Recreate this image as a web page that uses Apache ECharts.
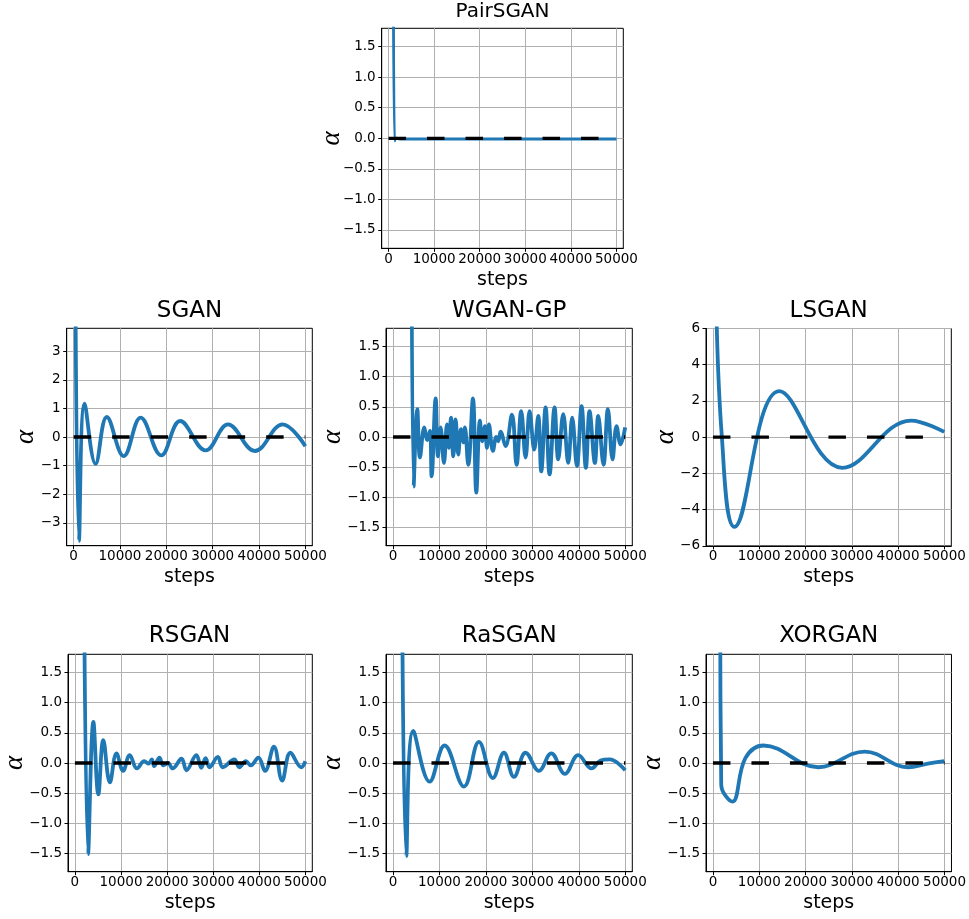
<!DOCTYPE html>
<html>
<head>
<meta charset="utf-8">
<script src="https://cdn.jsdelivr.net/npm/echarts@6/dist/echarts.min.js"></script>
<style>
  html, body { margin: 0; padding: 0; background: #ffffff; }
  #chart { width: 969px; height: 919px; }
</style>
</head>
<body>
<div id="chart"></div>
<script>
// ---- alpha over training steps, one pair of arrays per model ----
const pairSteps = [1000, 1300, 1700, 2500, 50000];
const pairAlpha = [5, -0.04, 0.0, -0.01, -0.01];

const sganSteps = [300, 1150, 2360, 4730, 7160, 10810, 14460, 18900, 22980, 28500, 33300, 39100, 45100, 50000];
const sganAlpha = [8, -3.63, 1.17, -0.94, 0.70, -0.67, 0.68, -0.64, 0.56, -0.47, 0.44, -0.49, 0.44, -0.32];

const wganSteps = [3950, 4450, 5230, 5810, 6740, 7390, 7960, 8320, 9180, 9680, 10250, 10970, 11620, 12050,
  12480, 12980, 13480, 14050, 14630, 15200, 15490, 16200, 17210, 17930, 18710, 19220, 19790, 20220, 20650,
  21510, 22230, 22660, 23160, 24230, 25600, 26600, 27600, 28540, 29400, 30400, 31260, 31910, 32840, 33700,
  34770, 35560, 36640, 37710, 38570, 39580, 40580, 41510, 42300, 43450, 44170, 45310, 46250, 47250, 48110,
  48970, 49970];
const wganAlpha = [5, -0.82, 0.46, -0.34, 0.16, -0.05, 0.10, -0.65, 0.64, -0.32, 0.16, -0.43, 0.21, -0.18,
  0.32, -0.32, 0.29, -0.29, 0.13, -0.09, 0.16, -0.46, 0.64, -0.92, 0.27, -0.07, 0.18, -0.18, 0.21,
  -0.23, 0.0, -0.07, 0.09, -0.15, 0.37, -0.46, 0.43, -0.34, 0.43, -0.21, 0.35, -0.57, 0.49, -0.62,
  0.49, -0.37, 0.38, -0.43, 0.32, -0.48, 0.51, -0.51, 0.43, -0.43, 0.35, -0.46, 0.46, -0.37, 0.18,
  -0.12, 0.16];

const lsganSteps = [600, 1930, 4660, 14340, 27960, 42800, 49980];
const lsganAlpha = [9, 0, -4.95, 2.54, -1.69, 0.92, 0.29];

const rsganSteps = [1900, 2860, 4010, 5080, 6160, 7590, 9020, 10450, 11890, 13460, 15040, 16000, 16680, 17180,
  18330, 19190, 20200, 21190, 23130, 24200, 26350, 27420, 28350, 29210, 31000, 32080, 34580, 35660, 37090,
  38160, 39810, 41240, 43170, 44960, 46750, 49120, 50000];
const rsganAlpha = [4, -1.51, 0.68, -0.52, 0.38, -0.32, 0.16, -0.13, 0.13, -0.09, 0.03, -0.01, 0.06, -0.05,
  0.09, -0.04, 0.0, -0.09, 0.07, -0.12, 0.13, -0.08, 0.08, -0.07, 0.10, -0.07, 0.06, -0.07, 0.03,
  -0.04, 0.09, -0.13, 0.27, -0.29, 0.17, -0.07, 0.03];

const rasganSteps = [1900, 2870, 4370, 7890, 11110, 15270, 18500, 21510, 23880, 26030, 28540, 31400, 34060, 37000, 39860, 42730, 44670, 46600, 49970];
const rasganAlpha = [4, -1.54, 0.53, -0.31, 0.29, -0.39, 0.35, -0.25, 0.17, -0.23, 0.17, -0.13, 0.16, -0.18, 0.13, -0.09, 0.04, 0.06, -0.12];

const xorganSteps = [1500, 1790, 4230, 7000, 10900, 22730, 32770, 42090, 46390, 49980];
const xorganAlpha = [4, -0.36, -0.64, 0.08, 0.29, -0.07, 0.19, -0.07, -0.01, 0.03];

// dashed reference at alpha = 0
const refSteps = [0, 50000];
const refAlpha = [0, 0];

// ---- tick labels ----
const stepTicks = [0, 10000, 20000, 30000, 40000, 50000];
const alphaTicks = [-1.5, -1.0, -0.5, 0.0, 0.5, 1.0, 1.5];
const sganTicks = [-3, -2, -1, 0, 1, 2, 3];
const lsganTicks = [-6, -4, -2, 0, 2, 4, 6];

// ---- panel layout ----
const panels = [
  { title: 'PairSGAN', steps: pairSteps, alpha: pairAlpha, ticks: alphaTicks, yMin: -1.8, yMax: 1.8, dec: 1,
    left: 381.7, top: 28.3, width: 241.6, height: 220, titleY: 12, titleSize: 20, nameGap: 36, lw: 3 },
  { title: 'SGAN', steps: sganSteps, alpha: sganAlpha, ticks: sganTicks, yMin: -3.8, yMax: 3.8, dec: 0,
    left: 66.7, top: 328.3, width: 245.6, height: 217.4, titleY: 311, titleSize: 23, nameGap: 27, lw: 3.8 },
  { title: 'WGAN-GP', steps: wganSteps, alpha: wganAlpha, ticks: alphaTicks, yMin: -1.8, yMax: 1.8, dec: 1,
    left: 386, top: 328.3, width: 246.3, height: 217.4, titleY: 311, titleSize: 23, nameGap: 40, lw: 3.8 },
  { title: 'LSGAN', steps: lsganSteps, alpha: lsganAlpha, ticks: lsganTicks, yMin: -6, yMax: 6, dec: 0,
    left: 706, top: 328.5, width: 245.3, height: 217.4, titleY: 311, titleSize: 23, nameGap: 27, lw: 3.8 },
  { title: 'RSGAN', steps: rsganSteps, alpha: rsganAlpha, ticks: alphaTicks, yMin: -1.8, yMax: 1.8, dec: 1,
    left: 66.7, top: 654.3, width: 245.6, height: 217.4, titleY: 636, titleSize: 23, nameGap: 40, lw: 3.8 },
  { title: 'RaSGAN', steps: rasganSteps, alpha: rasganAlpha, ticks: alphaTicks, yMin: -1.8, yMax: 1.8, dec: 1,
    left: 386, top: 654.3, width: 246.3, height: 217.4, titleY: 636, titleSize: 23, nameGap: 40, lw: 3.8 },
  { title: 'XORGAN', steps: xorganSteps, alpha: xorganAlpha, ticks: alphaTicks, yMin: -1.8, yMax: 1.8, dec: 1,
    left: 706, top: 654.3, width: 245.5, height: 217.4, titleY: 636, titleSize: 23, nameGap: 40, lw: 3.8 }
];

const STEP_MIN = -1500, STEP_MAX = 51500;
const SANS = 'DejaVu Sans';
const BLUE = '#1f77b4';
const GRID_GRAY = '#b0b0b0';

function zip(xs, ys) { return xs.map((x, i) => [x, ys[i]]); }
function fmtAlpha(dec) {
  return v => {
    const s = Math.abs(v) < 1e-9 ? Number(0).toFixed(dec) : Number(v).toFixed(dec);
    return s.replace('-', '\u2212');
  };
}

const grid = [], xAxis = [], yAxis = [], series = [], graphic = [];

panels.forEach((p, i) => {
  grid.push({
    left: p.left, top: p.top, width: p.width, height: p.height,
    show: true, borderColor: '#000', borderWidth: 1, backgroundColor: 'transparent',
    containLabel: false
  });
  xAxis.push({
    gridIndex: i, type: 'value', min: STEP_MIN, max: STEP_MAX,
    axisLine: { show: true, onZero: false, lineStyle: { color: '#000', width: 1 } },
    axisTick: { show: true, customValues: stepTicks, length: 3.5, lineStyle: { color: '#000', width: 1 } },
    axisLabel: { customValues: stepTicks, fontFamily: SANS, fontSize: 13.5, color: '#000', margin: 4,
      hideOverlap: false, showMinLabel: true, showMaxLabel: true,
      formatter: v => String(Math.round(v)) },
    splitLine: { show: true, lineStyle: { color: GRID_GRAY, width: 1 } },
    name: 'steps', nameLocation: 'middle', nameGap: 22, nameMoveOverlap: false,
    nameTextStyle: { fontFamily: SANS, fontSize: 19, color: '#000' }
  });
  yAxis.push({
    gridIndex: i, type: 'value', min: p.yMin, max: p.yMax,
    axisLine: { show: true, onZero: false, lineStyle: { color: '#000', width: 1 } },
    axisTick: { show: true, customValues: p.ticks, length: 3.5, lineStyle: { color: '#000', width: 1 } },
    axisLabel: { customValues: p.ticks, fontFamily: SANS, fontSize: 13.5, color: '#000', margin: 6,
      formatter: fmtAlpha(p.dec) },
    splitLine: { show: true, lineStyle: { color: GRID_GRAY, width: 1 } },
    name: '\u03b1', nameLocation: 'middle', nameGap: p.nameGap, nameMoveOverlap: false,
    nameTextStyle: { fontFamily: 'Liberation Serif', fontStyle: 'italic', fontSize: 27, color: '#000' }
  });
  series.push({
    type: 'line', xAxisIndex: i, yAxisIndex: i, data: zip(p.steps, p.alpha),
    showSymbol: false, symbol: 'none', smooth: 0.4, clip: true, z: 2,
    lineStyle: { color: BLUE, width: p.lw, join: 'round' }
  });
  series.push({
    type: 'line', xAxisIndex: i, yAxisIndex: i, data: zip(refSteps, refAlpha),
    showSymbol: false, symbol: 'none', clip: true, z: 3,
    lineStyle: { color: '#000', width: 3.3, type: [17.5, 21] }
  });
  graphic.push({
    type: 'text', x: p.left + p.width / 2, y: p.titleY,
    style: { text: p.title, fontFamily: SANS, fontSize: p.titleSize, fill: '#000',
      textAlign: 'center', textVerticalAlign: 'middle', align: 'center', verticalAlign: 'middle' }
  });
});

const chart = echarts.init(document.getElementById('chart'), null, { renderer: 'canvas' });
chart.setOption({
  backgroundColor: '#ffffff',
  animation: false,
  grid, xAxis, yAxis, series, graphic
});
</script>
</body>
</html>
